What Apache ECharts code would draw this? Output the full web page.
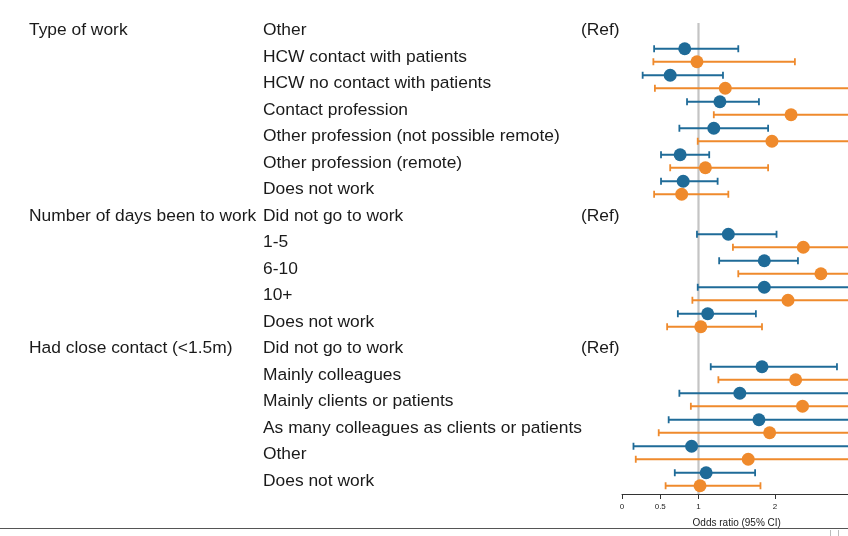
<!DOCTYPE html>
<html>
<head>
<meta charset="utf-8">
<script src="https://cdn.jsdelivr.net/npm/echarts@6/dist/echarts.min.js"></script>
<style>
html,body{margin:0;padding:0;background:#fff;}
#chart{width:848px;height:536px;}
</style>
</head>
<body>
<div id="chart"></div>
<script>
// Row labels
const groupLabels = ['Type of work','','','','','','','Number of days been to work','','','','','Had close contact (<1.5m)','','','','',''];
const categories = ['Other','HCW contact with patients','HCW no contact with patients','Contact profession','Other profession (not possible remote)','Other profession (remote)','Does not work','Did not go to work','1-5','6-10','10+','Does not work','Did not go to work','Mainly colleagues','Mainly clients or patients','As many colleagues as clients or patients','Other','Does not work'];
const refLabels = ['(Ref)','','','','','','','(Ref)','','','','','(Ref)','','','','',''];

// Blue series: odds ratio with 95% CI
const blueOR = [null,0.82,0.63,1.28,1.20,0.76,0.80,null,1.39,1.86,1.86,1.12,null,1.83,1.54,1.79,0.91,1.10];
const blueLo = [null,0.42,0.27,0.85,0.75,0.51,0.51,null,0.98,1.27,0.99,0.73,null,1.16,0.75,0.61,0.15,0.69];
const blueHi = [null,1.52,1.32,1.79,1.91,1.14,1.25,null,2.02,2.30,3.30,1.75,null,2.81,3.40,3.50,3.60,1.74];
// Orange series
const orangeOR = [null,0.98,1.35,2.21,1.96,1.09,0.78,null,2.37,2.60,2.17,1.03,null,2.27,2.36,1.93,1.65,1.02];
const orangeLo = [null,0.41,0.43,1.20,0.99,0.63,0.42,null,1.45,1.52,0.92,0.59,null,1.26,0.90,0.48,0.18,0.57];
const orangeHi = [null,2.26,3.80,4.20,4.00,1.91,1.39,null,3.90,4.30,4.10,1.83,null,3.70,4.20,4.50,5.00,1.81];

// Axis ticks
const tickValues = [0,0.5,1,2,3];
const refValue = 1;

const BLUE = '#1f6b98';
const ORANGE = '#ef8a2c';
const rowIdx = categories.map((_, i) => i);

function pts(or){ return or.map((v,i)=> v==null ? null : [v,i]).filter(d=>d); }
function bars(lo,hi){ return lo.map((v,i)=> v==null ? null : [v,hi[i],i]).filter(d=>d); }

function errRender(dy, color){
  return function(params, api){
    const a = api.coord([api.value(0), api.value(2)]);
    const b = api.coord([api.value(1), api.value(2)]);
    const y = a[1] + dy, h = 3.5;
    const st = {stroke: color, lineWidth: 1.8};
    return {type:'group', children:[
      {type:'line', shape:{x1:a[0],y1:y,x2:b[0],y2:y}, style:st},
      {type:'line', shape:{x1:a[0],y1:y-h,x2:a[0],y2:y+h}, style:st},
      {type:'line', shape:{x1:b[0],y1:y-h,x2:b[0],y2:y+h}, style:st}
    ]};
  };
}

const textColor = '#1a1a1a';
const fontFam = 'Liberation Sans, Arial, sans-serif';
function yAx(labels, margin){
  return {
    type:'category', data: rowIdx, inverse:true, position:'left',
    axisLine:{show:false}, axisTick:{show:false}, splitLine:{show:false},
    axisLabel:{interval:0, align:'left', margin:margin, color:textColor, fontSize:17.4, fontFamily:fontFam,
      hideOverlap:false, formatter:(v,i)=>labels[i]}
  };
}

const chart = echarts.init(document.getElementById('chart'), null, {renderer:'canvas'});
chart.setOption({
  animation:false,
  backgroundColor:'#ffffff',
  grid:{left:622, top:17, width:229.5, height:477, containLabel:false, outerBoundsMode:'none'},
  xAxis:{
    type:'value', min:0, max:3,
    axisLine:{show:true, lineStyle:{color:'#333', width:1}},
    axisTick:{show:true, customValues: tickValues, length:5, lineStyle:{color:'#333'}},
    axisLabel:{customValues: tickValues, color:'#222', fontSize:8, margin:9, fontFamily:fontFam},
    splitLine:{show:false},
    name:'Odds ratio (95% CI)', nameLocation:'middle', nameGap:24,
    nameTextStyle:{color:'#222', fontSize:10, fontFamily:fontFam}
  },
  yAxis:[ yAx(categories, 359), yAx(groupLabels, 593), yAx(refLabels, 41) ],
  series:[
    {type:'custom', data:[[refValue]], encode:{x:0}, z:1, silent:true,
     renderItem:function(params, api){
       const cs = params.coordSys;
       const x = api.coord([api.value(0), 0])[0];
       return {type:'line', shape:{x1:x, y1:cs.y+6, x2:x, y2:cs.y+cs.height}, style:{stroke:'#c4c4c4', lineWidth:2.2}};
     }},
    {type:'custom', data:bars(blueLo, blueHi), encode:{x:[0,1], y:2}, renderItem: errRender(-8, BLUE), z:2, clip:false},
    {type:'custom', data:bars(orangeLo, orangeHi), encode:{x:[0,1], y:2}, renderItem: errRender(5, ORANGE), z:2, clip:false},
    {type:'scatter', data:pts(blueOR), symbol:'circle', symbolSize:13, symbolOffset:[0,-8], itemStyle:{color:BLUE, opacity:1}, z:3},
    {type:'scatter', data:pts(orangeOR), symbol:'circle', symbolSize:13, symbolOffset:[0,5], itemStyle:{color:ORANGE, opacity:1}, z:3}
  ],
  graphic:[
    {type:'line', shape:{x1:0, y1:528.5, x2:848, y2:528.5}, style:{stroke:'#555', lineWidth:1}},
    {type:'line', shape:{x1:830.5, y1:530, x2:830.5, y2:536}, style:{stroke:'#bbb', lineWidth:1}},
    {type:'line', shape:{x1:838.5, y1:530, x2:838.5, y2:536}, style:{stroke:'#bbb', lineWidth:1}}
  ]
});
</script>
</body>
</html>
